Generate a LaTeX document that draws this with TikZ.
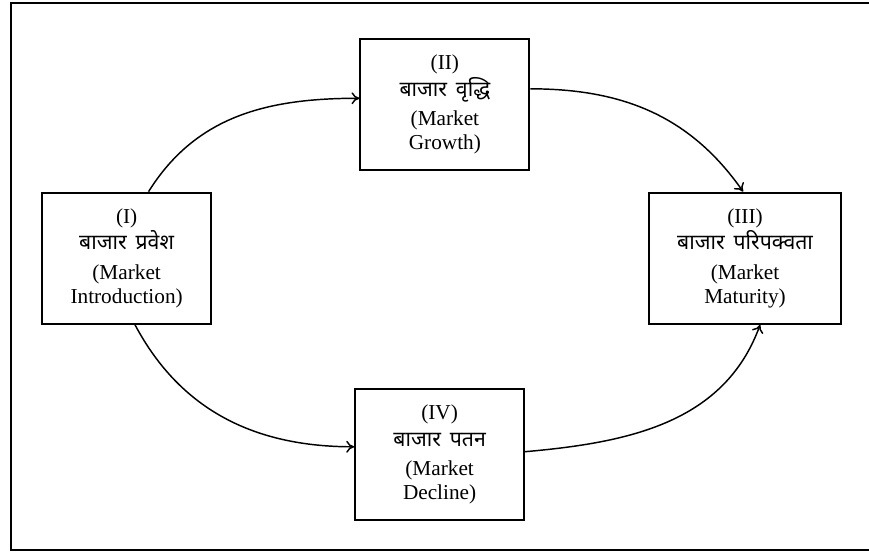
\documentclass[tikz,border=0pt]{standalone}
\usepackage{fontspec}
\setmainfont{Liberation Serif}
\newfontfamily\hindi[Script=Devanagari,WordSpace=1.6]{Noto Sans}
\usepackage{tikz}
\usetikzlibrary{arrows.meta,positioning,calc}

\begin{document}
\begin{tikzpicture}[
  stage/.style={draw=black,line width=1.4pt,minimum width=4.47cm,minimum height=3.47cm,align=center,font=\fontsize{16}{18}\selectfont,inner sep=2pt},
  arrow/.style={-{To[length=6pt,width=9pt]},line width=1.1pt,black}
]
\useasboundingbox (0,0) rectangle (22.99,14.6);
\draw[line width=1.4pt] (0.29,0.05) rectangle (23.6,14.53);
\node[stage] (intro) at (3.35,7.77) {(I)\\[2pt]{\hindi बाजार प्रवेश}\\[4pt](Market\\Introduction)};
\node[stage] (growth) at (11.77,11.84) {(II)\\[2pt]{\hindi बाजार वृद्धि}\\[4pt](Market\\Growth)};
\node[stage,minimum width=5.08cm] (mature) at (19.71,7.77) {(III)\\[2pt]{\hindi बाजार परिपक्वता}\\[4pt](Market\\Maturity)};
\node[stage] (decline) at (11.63,2.57) {(IV)\\[2pt]{\hindi बाजार पतन}\\[4pt](Market\\Decline)};
\draw[arrow] ([xshift=0.58cm]intro.north) to[out=58,in=180] ([yshift=0.16cm]growth.west);
\draw[arrow] ([yshift=0.41cm]growth.east) to[out=0,in=125] ([xshift=-0.05cm]mature.north);
\draw[arrow] ([xshift=0.22cm]intro.south) to[out=-62,in=180] ([yshift=0.21cm]decline.west);
\draw[arrow] ([yshift=0.08cm]decline.east) to[out=5,in=-110] ([xshift=0.4cm]mature.south);
\end{tikzpicture}
\end{document}
